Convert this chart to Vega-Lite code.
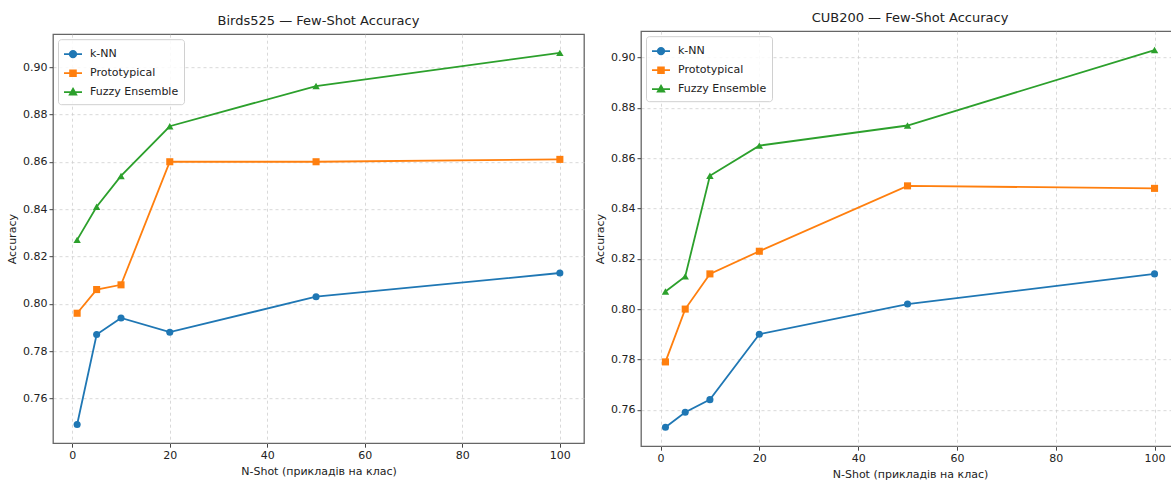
{
  "$schema": "https://vega.github.io/schema/vega-lite/v6.json",
  "padding": {"left": 5, "top": 11, "right": 0, "bottom": 1},
  "background": "white",
  "spacing": 8,
  "center": true,
  "config": {
    "font": "DejaVu Sans",
    "view": {"stroke": "#666", "strokeWidth": 1.3},
    "axis": {
      "domain": false,
      "grid": true,
      "gridDash": [3, 3],
      "gridColor": "#cfcfcf",
      "gridWidth": 0.8,
      "tickColor": "#444",
      "tickSize": 4,
      "labelColor": "#222",
      "labelFontSize": 11,
      "labelPadding": 2,
      "titleFontSize": 11,
      "titleFontWeight": "normal",
      "titleColor": "#222",
      "labelFont": "DejaVu Sans",
      "titleFont": "DejaVu Sans"
    },
    "title": {"fontSize": 13, "fontWeight": "normal", "color": "#222", "font": "DejaVu Sans", "offset": 6},
    "legend": {
      "labelFont": "DejaVu Sans",
      "labelFontSize": 11,
      "labelColor": "#222",
      "strokeColor": "#d0d0d0",
      "fillColor": "rgba(255,255,255,0.85)",
      "cornerRadius": 3,
      "padding": 5,
      "rowPadding": 2,
      "labelOffset": 7,
      "symbolSize": 324,
      "title": null
    }
  },
  "datasets": {
    "acc": [
      {"dataset": "Birds525", "series": "k-NN", "shots": 1, "acc": 0.749},
      {"dataset": "Birds525", "series": "k-NN", "shots": 5, "acc": 0.787},
      {"dataset": "Birds525", "series": "k-NN", "shots": 10, "acc": 0.794},
      {"dataset": "Birds525", "series": "k-NN", "shots": 20, "acc": 0.788},
      {"dataset": "Birds525", "series": "k-NN", "shots": 50, "acc": 0.803},
      {"dataset": "Birds525", "series": "k-NN", "shots": 100, "acc": 0.813},
      {"dataset": "Birds525", "series": "Prototypical", "shots": 1, "acc": 0.796},
      {"dataset": "Birds525", "series": "Prototypical", "shots": 5, "acc": 0.806},
      {"dataset": "Birds525", "series": "Prototypical", "shots": 10, "acc": 0.808},
      {"dataset": "Birds525", "series": "Prototypical", "shots": 20, "acc": 0.860},
      {"dataset": "Birds525", "series": "Prototypical", "shots": 50, "acc": 0.860},
      {"dataset": "Birds525", "series": "Prototypical", "shots": 100, "acc": 0.861},
      {"dataset": "Birds525", "series": "Fuzzy Ensemble", "shots": 1, "acc": 0.827},
      {"dataset": "Birds525", "series": "Fuzzy Ensemble", "shots": 5, "acc": 0.841},
      {"dataset": "Birds525", "series": "Fuzzy Ensemble", "shots": 10, "acc": 0.854},
      {"dataset": "Birds525", "series": "Fuzzy Ensemble", "shots": 20, "acc": 0.875},
      {"dataset": "Birds525", "series": "Fuzzy Ensemble", "shots": 50, "acc": 0.892},
      {"dataset": "Birds525", "series": "Fuzzy Ensemble", "shots": 100, "acc": 0.906},
      {"dataset": "CUB200", "series": "k-NN", "shots": 1, "acc": 0.753},
      {"dataset": "CUB200", "series": "k-NN", "shots": 5, "acc": 0.759},
      {"dataset": "CUB200", "series": "k-NN", "shots": 10, "acc": 0.764},
      {"dataset": "CUB200", "series": "k-NN", "shots": 20, "acc": 0.790},
      {"dataset": "CUB200", "series": "k-NN", "shots": 50, "acc": 0.802},
      {"dataset": "CUB200", "series": "k-NN", "shots": 100, "acc": 0.814},
      {"dataset": "CUB200", "series": "Prototypical", "shots": 1, "acc": 0.779},
      {"dataset": "CUB200", "series": "Prototypical", "shots": 5, "acc": 0.800},
      {"dataset": "CUB200", "series": "Prototypical", "shots": 10, "acc": 0.814},
      {"dataset": "CUB200", "series": "Prototypical", "shots": 20, "acc": 0.823},
      {"dataset": "CUB200", "series": "Prototypical", "shots": 50, "acc": 0.849},
      {"dataset": "CUB200", "series": "Prototypical", "shots": 100, "acc": 0.848},
      {"dataset": "CUB200", "series": "Fuzzy Ensemble", "shots": 1, "acc": 0.807},
      {"dataset": "CUB200", "series": "Fuzzy Ensemble", "shots": 5, "acc": 0.813},
      {"dataset": "CUB200", "series": "Fuzzy Ensemble", "shots": 10, "acc": 0.853},
      {"dataset": "CUB200", "series": "Fuzzy Ensemble", "shots": 20, "acc": 0.865},
      {"dataset": "CUB200", "series": "Fuzzy Ensemble", "shots": 50, "acc": 0.873},
      {"dataset": "CUB200", "series": "Fuzzy Ensemble", "shots": 100, "acc": 0.903}
    ]
  },
  "resolve": {
    "scale": {"color": "independent", "strokeWidth": "independent"},
    "legend": {"color": "independent"}
  },
  "hconcat": [
    {
      "title": {"text": "Birds525 — Few-Shot Accuracy", "offset": 6},
      "width": 531,
      "height": 409,
      "data": {"name": "acc"},
      "transform": [{"filter": "datum.dataset === 'Birds525'"}],
      "encoding": {
        "x": {"field": "shots", "type": "quantitative", "scale": {"domain": [-3.95, 104.95], "nice": false, "zero": false}, "axis": {"values": [0, 20, 40, 60, 80, 100], "title": "N-Shot (прикладів на клас)", "titlePadding": 5}},
        "y": {"field": "acc", "type": "quantitative", "scale": {"domain": [0.7411, 0.9139], "nice": false, "zero": false}, "axis": {"values": [0.76, 0.78, 0.80, 0.82, 0.84, 0.86, 0.88, 0.90], "format": ".2f", "title": "Accuracy", "titlePadding": 5}},
        "color": {"field": "series", "type": "nominal", "scale": {"domain": ["k-NN", "Prototypical", "Fuzzy Ensemble"], "range": ["#1f77b4", "#ff7f0e", "#2ca02c"]},
          "legend": {"orient": "top-left", "offset": 5, "encode": {"symbols": {"update": {
            "shape": {"signal": "datum.value === 'k-NN' ? 'M-1,0H1M0.36,0A0.36,0.36,0,1,1,-0.36,0A0.36,0.36,0,1,1,0.36,0Z' : datum.value === 'Prototypical' ? 'M-1,0H1M-0.32,-0.32H0.32V0.32H-0.32Z' : 'M-1,0H1M0,-0.38L0.36,0.28H-0.36Z'"},
            "stroke": {"signal": "datum.value === 'k-NN' ? '#1f77b4' : datum.value === 'Prototypical' ? '#ff7f0e' : '#2ca02c'"},
            "fill": {"signal": "datum.value === 'k-NN' ? '#1f77b4' : datum.value === 'Prototypical' ? '#ff7f0e' : '#2ca02c'"},
            "strokeWidth": {"signal": "datum.value === 'Fuzzy Ensemble' ? 2.4 : 1.8"},
            "opacity": {"value": 1}
          }}}}}
      },
      "layer": [
        {"mark": {"type": "line"}, "encoding": {"strokeWidth": {"field": "series", "type": "nominal", "scale": {"domain": ["k-NN", "Prototypical", "Fuzzy Ensemble"], "range": [1.8, 1.8, 2.8]}, "legend": null}}},
        {"transform": [{"filter": "datum.series === 'k-NN'"}], "mark": {"type": "point", "shape": "circle", "filled": true, "size": 50, "opacity": 1}},
        {"transform": [{"filter": "datum.series === 'Prototypical'"}], "mark": {"type": "point", "shape": "square", "filled": true, "size": 50, "opacity": 1}},
        {"transform": [{"filter": "datum.series === 'Fuzzy Ensemble'"}], "mark": {"type": "point", "shape": "triangle-up", "filled": true, "size": 55, "opacity": 1}}
      ]
    },
    {
      "title": {"text": "CUB200 — Few-Shot Accuracy", "offset": 6},
      "width": 538,
      "height": 415,
      "data": {"name": "acc"},
      "transform": [{"filter": "datum.dataset === 'CUB200'"}],
      "encoding": {
        "x": {"field": "shots", "type": "quantitative", "scale": {"domain": [-3.95, 104.95], "nice": false, "zero": false}, "axis": {"values": [0, 20, 40, 60, 80, 100], "title": "N-Shot (прикладів на клас)", "titlePadding": 5}},
        "y": {"field": "acc", "type": "quantitative", "scale": {"domain": [0.7455, 0.9105], "nice": false, "zero": false}, "axis": {"values": [0.76, 0.78, 0.80, 0.82, 0.84, 0.86, 0.88, 0.90], "format": ".2f", "title": "Accuracy", "titlePadding": 5}},
        "color": {"field": "series", "type": "nominal", "scale": {"domain": ["k-NN", "Prototypical", "Fuzzy Ensemble"], "range": ["#1f77b4", "#ff7f0e", "#2ca02c"]},
          "legend": {"orient": "top-left", "offset": 5, "encode": {"symbols": {"update": {
            "shape": {"signal": "datum.value === 'k-NN' ? 'M-1,0H1M0.36,0A0.36,0.36,0,1,1,-0.36,0A0.36,0.36,0,1,1,0.36,0Z' : datum.value === 'Prototypical' ? 'M-1,0H1M-0.32,-0.32H0.32V0.32H-0.32Z' : 'M-1,0H1M0,-0.38L0.36,0.28H-0.36Z'"},
            "stroke": {"signal": "datum.value === 'k-NN' ? '#1f77b4' : datum.value === 'Prototypical' ? '#ff7f0e' : '#2ca02c'"},
            "fill": {"signal": "datum.value === 'k-NN' ? '#1f77b4' : datum.value === 'Prototypical' ? '#ff7f0e' : '#2ca02c'"},
            "strokeWidth": {"signal": "datum.value === 'Fuzzy Ensemble' ? 2.4 : 1.8"},
            "opacity": {"value": 1}
          }}}}}
      },
      "layer": [
        {"mark": {"type": "line"}, "encoding": {"strokeWidth": {"field": "series", "type": "nominal", "scale": {"domain": ["k-NN", "Prototypical", "Fuzzy Ensemble"], "range": [1.8, 1.8, 2.8]}, "legend": null}}},
        {"transform": [{"filter": "datum.series === 'k-NN'"}], "mark": {"type": "point", "shape": "circle", "filled": true, "size": 50, "opacity": 1}},
        {"transform": [{"filter": "datum.series === 'Prototypical'"}], "mark": {"type": "point", "shape": "square", "filled": true, "size": 50, "opacity": 1}},
        {"transform": [{"filter": "datum.series === 'Fuzzy Ensemble'"}], "mark": {"type": "point", "shape": "triangle-up", "filled": true, "size": 55, "opacity": 1}}
      ]
    }
  ]
}
